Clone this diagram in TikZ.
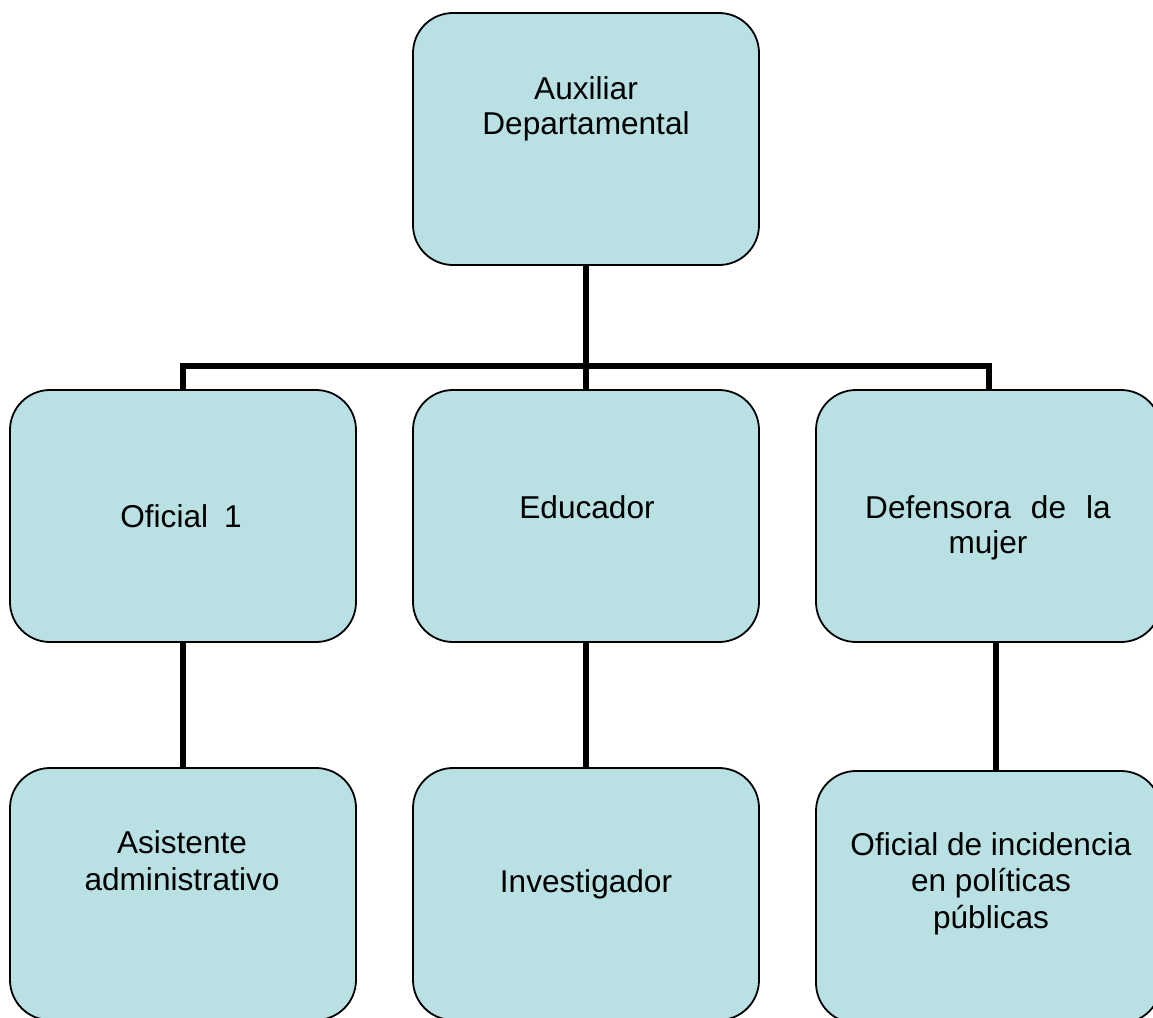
\documentclass[tikz,border=0pt]{standalone}
\usepackage{fontspec}
\setmainfont{Liberation Sans}
\definecolor{boxfill}{RGB}{185,224,227}
\newcommand{\lbl}[2][35]{{\fontsize{31.6}{#1}\selectfont\begin{tabular}[t]{@{}c@{}}#2\end{tabular}}}
\tikzset{
  orgbox/.style={draw=black, line width=1.8pt, fill=boxfill, rounded corners=40pt,
    minimum width=346pt, minimum height=252pt, inner sep=0pt, outer sep=0pt},
  orgtext/.style={anchor=base, inner sep=0pt, outer sep=0pt},
  conn/.style={draw=black, line width=6pt}
}
\begin{document}
\begin{tikzpicture}[x=1pt, y=-1pt]
\useasboundingbox (0,0) rectangle (1153,1017);
\begin{scope}
\clip (0,0) rectangle (1153,1017);
% connectors
\coordinate (bus) at (586,366);
\node[orgbox] (top) at (586,139) {};
\node[orgbox] (b1) at (183,516) {};
\node[orgbox] (b2) at (586,516) {};
\node[orgbox, minimum width=345pt] (b3) at (988.5,516) {};
\node[orgbox] (c1) at (183,894) {};
\node[orgbox] (c2) at (586,894) {};
\node[orgbox, minimum width=345pt] (c3) at (988.5,897) {};
\begin{scope}[on background layer/.style={}]
\end{scope}
\end{scope}
% connectors drawn after boxes but they only touch box edges
\draw[conn] (top.south) -- (b2.north);
\draw[conn] (b1.north) -- (b1.north |- bus) -- (b3.north |- bus) -- (b3.north);
\draw[conn] (b1.south) -- (c1.north);
\draw[conn] (b2.south) -- (c2.north);
\draw[conn] ([xshift=7.5pt]b3.south) -- ([xshift=7.5pt]c3.north);
% labels
\node[orgtext] (t-top) at (586,99) {\lbl{Auxiliar\\Departamental}};
\node[orgtext] (t-b1) at (181,527) {\lbl{Oficial\hspace{16pt}1}};
\node[orgtext] (t-b2) at (587,518) {\lbl{Educador}};
\node[orgtext] (t-b3) at (988,518) {\lbl{Defensora\hspace{20pt}de\hspace{20pt}la\\mujer}};
\node[orgtext] (t-c1) at (182,853) {\lbl[37]{Asistente\\administrativo}};
\node[orgtext] (t-c2) at (586,892) {\lbl{Investigador}};
\node[orgtext] (t-c3) at (991,855) {\lbl[36.5]{Oficial de incidencia\\en políticas\\públicas}};
\end{tikzpicture}
\end{document}
